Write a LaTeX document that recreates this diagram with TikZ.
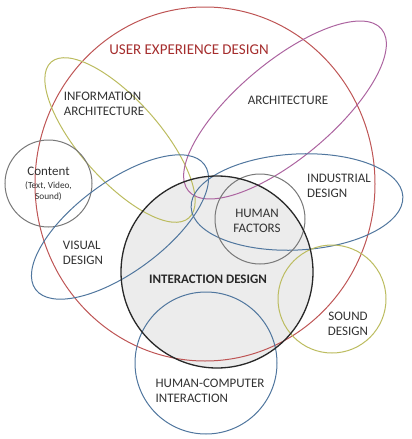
\documentclass[tikz,border=0pt]{standalone}
\usepackage{fontspec}
\setmainfont{Carlito}
\definecolor{uxred}{RGB}{190,85,85}
\definecolor{titlered}{RGB}{165,45,45}
\definecolor{olive}{RGB}{188,188,95}
\definecolor{plum}{RGB}{172,100,160}
\definecolor{steel}{RGB}{80,118,158}
\definecolor{ring}{RGB}{120,120,120}
\definecolor{core}{RGB}{40,40,40}
\definecolor{corefill}{RGB}{236,236,236}
\definecolor{ink}{RGB}{50,50,50}
\begin{document}
\begin{tikzpicture}[x=1pt, y=-1pt,
	shape line/.style={line width=1pt},
	label text/.style={text=ink, font=\fontsize{13}{14.5}\selectfont, align=left, inner sep=0pt}]
	\useasboundingbox (0, 0) rectangle (412, 439);
	% grey field of interaction design
	\fill[corefill] (217, 272) circle [radius=96];

	\draw[shape line, uxred] (205, 184) ellipse [x radius=170, y radius=177];
	\draw[shape line, olive] (120, 140) ellipse [x radius=104, y radius=40, rotate=-48.5];
	\draw[shape line, plum] (285, 110) ellipse [x radius=126, y radius=48, rotate=40];
	\draw[shape line, ring] (48.5, 183.5) circle [radius=43.5];
	\draw[shape line, steel] (120, 227) ellipse [x radius=105, y radius=45, rotate=36.5];
	\draw[shape line, steel] (297, 202) ellipse [x radius=106, y radius=48, rotate=3];
	\draw[shape line, ring] (260, 219) circle [radius=45];
	\draw[shape line, olive] (332, 299) circle [radius=54];
	\draw[shape line, steel] (206, 363) circle [radius=71];
	\draw[line width=1.3pt, core] (217, 272) circle [radius=96];

	\node[label text, text=titlered, font=\fontsize{15}{17}\selectfont] (uxd) at (189, 50) {USER EXPERIENCE DESIGN};
	\node[label text] (ia) at (104, 104) {INFORMATION\\ARCHITECTURE};
	\node[label text] (arch) at (288, 100) {ARCHITECTURE};
	\node[label text, align=center] (content) at (48.5, 184) {Content\\[-2pt]{\fontsize{9.3}{10}\selectfont (Text, Video,}\\[-3pt]{\fontsize{9.3}{10}\selectfont Sound)}};
	\node[label text] (ind) at (339, 186) {INDUSTRIAL\\DESIGN};
	\node[label text, align=center] (hf) at (257, 221) {HUMAN\\FACTORS};
	\node[label text] (vis) at (83, 253) {VISUAL\\DESIGN};
	\node[label text, font=\fontsize{13}{14.5}\selectfont\bfseries, text=core] (ixd) at (208, 279) {INTERACTION DESIGN};
	\node[label text, align=center] (snd) at (348, 324) {SOUND\\DESIGN};
	\node[label text] (hci) at (210, 391) {HUMAN-COMPUTER\\INTERACTION};
\end{tikzpicture}
\end{document}
